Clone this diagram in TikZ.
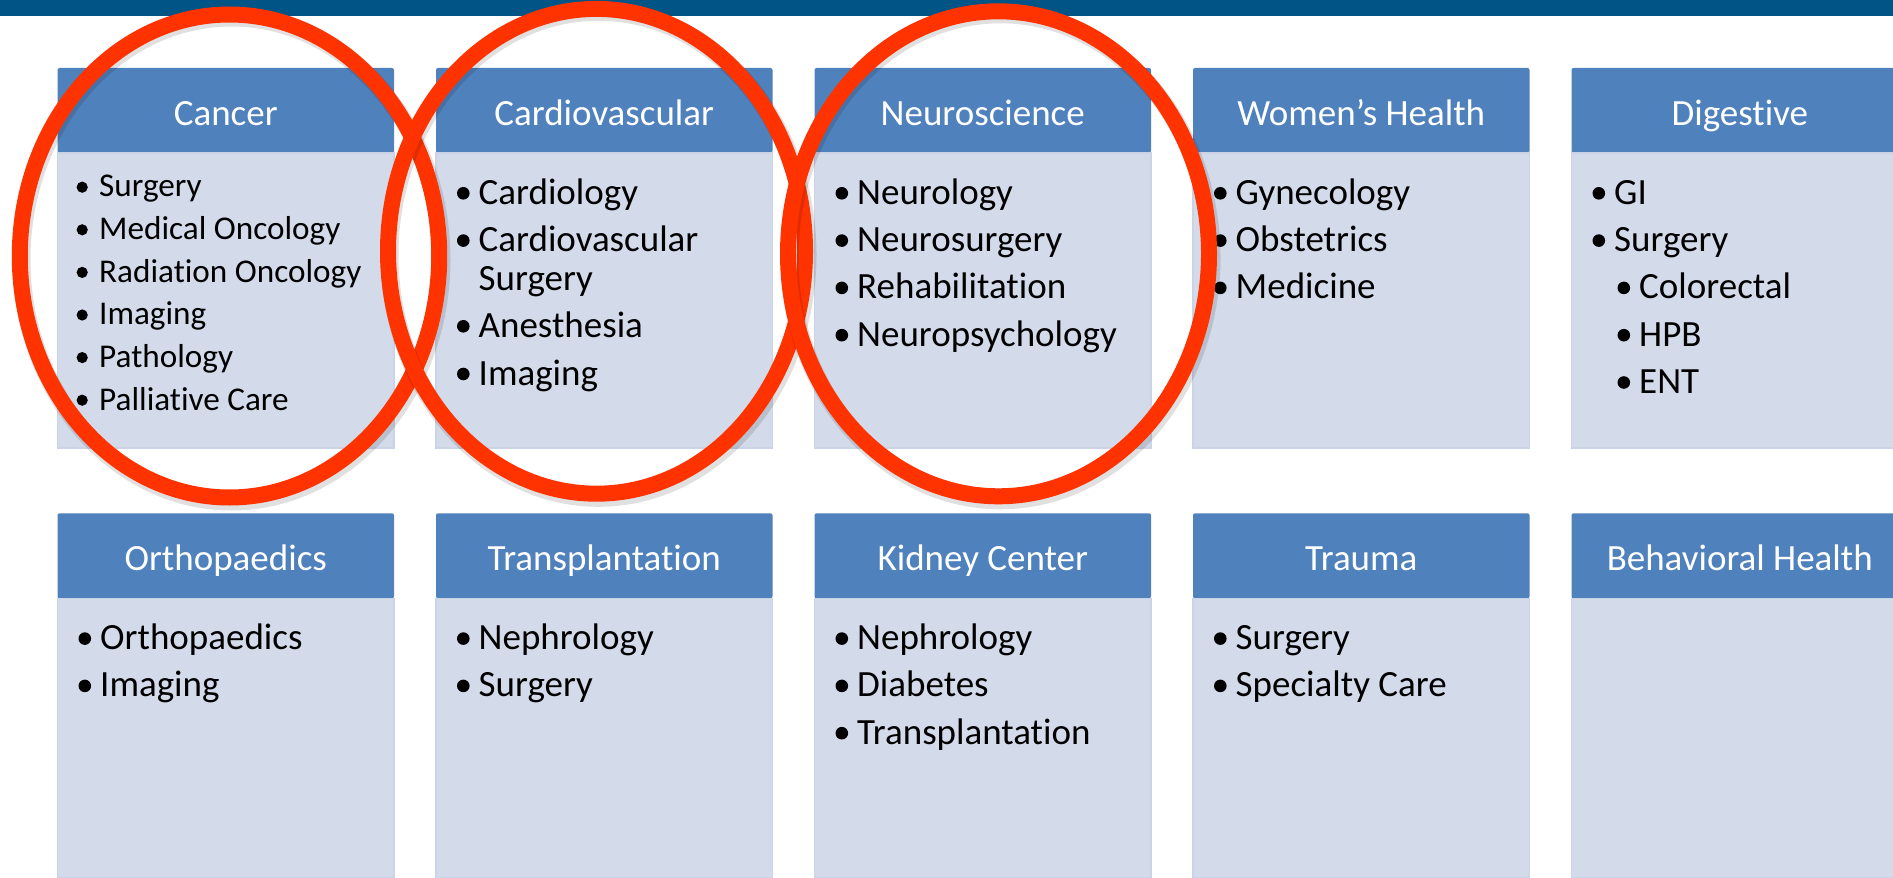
\documentclass[tikz,border=0pt]{standalone}
\usepackage{fontspec}
\setmainfont{Carlito}[Ligatures={NoCommon,NoContextual}]
\definecolor{topbar}{HTML}{005486}
\definecolor{hdr}{HTML}{4F81BD}
\definecolor{bodyc}{HTML}{D3DBEA}
\definecolor{bodyline}{HTML}{CBD4E6}
\definecolor{ring}{HTML}{FF3300}
\newcommand\mkpanel[5]{%
  \node[hdrbox, anchor=north west] (#1h) at (#2,#3) {};
  \node[bodybox, anchor=north west, minimum height=#5] (#1b) at (#2,#3+85) {};
  \node[hdrtext] (#1t) at (#2+168.25,#3+57.5) {#4};
}
\newcommand\itm[4]{%
  \fill (#2+27.3,#3-11) circle[radius=6.3];
  \node[item] (#1) at (#2+42.3,#3) {#4};
}
\newcommand\itmsub[4]{%
  \fill (#2+52.3,#3-11) circle[radius=6.3];
  \node[item] (#1) at (#2+67.3,#3) {#4};
}
\newcommand\itmcont[4]{%
  \node[item] (#1) at (#2+42.3,#3) {#4};
}
\newcommand\itmsmall[4]{%
  \fill (#2+24.7,#3-9.8) circle[radius=5.6];
  \node[itemsmall] (#1) at (#2+41.3,#3) {#4};
}
\begin{document}
\begin{tikzpicture}[x=0.5pt,y=-0.5pt,
  hdrbox/.style={fill=hdr, draw=none, rounded corners=1pt, minimum width=168.25pt, minimum height=42.5pt, inner sep=0, outer sep=0},
  bodybox/.style={fill=bodyc, draw=bodyline, line width=0.6pt, minimum width=168.25pt, inner sep=0, outer sep=0},
  hdrtext/.style={text=white, font=\fontsize{18.5pt}{22pt}\selectfont, anchor=base, inner sep=0},
  item/.style={anchor=base west, inner sep=0, font=\fontsize{18.5pt}{22pt}\selectfont},
  itemsmall/.style={anchor=base west, inner sep=0, font=\fontsize{16.6pt}{20pt}\selectfont},
  ringline/.style={draw=ring, line width=8pt},
  ringshade/.style={draw=black, line width=9pt, opacity=0.12}
]
\useasboundingbox (0,0) rectangle (1893,877);
\clip (0,0) rectangle (1893,877);
\fill[white] (0,0) rectangle (1893,877);
\fill[topbar] (0,0) rectangle (1893,16);

% row 1
\mkpanel{can}{57.5}{68}{Cancer}{147.5pt}
\mkpanel{car}{436}{68}{Cardiovascular}{147.5pt}
\mkpanel{neu}{814.5}{68}{Neuroscience}{147.5pt}
\mkpanel{wom}{1193}{68}{Women’s Health}{147.5pt}
\mkpanel{dig}{1571.5}{68}{Digestive}{147.5pt}
% row 2
\mkpanel{ort}{57.5}{513.3}{Orthopaedics}{139.5pt}
\mkpanel{tra}{436}{513.3}{Transplantation}{139.5pt}
\mkpanel{kid}{814.5}{513.3}{Kidney Center}{139.5pt}
\mkpanel{trm}{1193}{513.3}{Trauma}{139.5pt}
\mkpanel{beh}{1571.5}{513.3}{Behavioral Health}{139.5pt}

% Cancer items
\itmsmall{can1}{57.5}{197}{Surgery}
\itmsmall{can2}{57.5}{239.6}{Medical Oncology}
\itmsmall{can3}{57.5}{282.2}{Radiation Oncology}
\itmsmall{can4}{57.5}{324.8}{Imaging}
\itmsmall{can5}{57.5}{367.4}{Pathology}
\itmsmall{can6}{57.5}{410}{Palliative Care}
% Cardiovascular
\itm{car1}{436}{204.3}{Cardiology}
\itm{car2}{436}{251.6}{Cardiovascular}
\itmcont{car3}{436}{290}{Surgery}
\itm{car4}{436}{337.3}{Anesthesia}
\itm{car5}{436}{385}{Imaging}
% Neuroscience
\itm{neu1}{814.5}{204.3}{Neurology}
\itm{neu2}{814.5}{251.6}{Neurosurgery}
\itm{neu3}{814.5}{298.9}{Rehabilitation}
\itm{neu4}{814.5}{346.2}{Neuropsychology}
% Women's Health
\itm{wom1}{1193}{204.3}{Gynecology}
\itm{wom2}{1193}{251.6}{Obstetrics}
\itm{wom3}{1193}{298.9}{Medicine}
% Digestive
\itm{dig1}{1571.5}{204.3}{GI}
\itm{dig2}{1571.5}{251.6}{Surgery}
\itmsub{dig3}{1571.5}{298.9}{Colorectal}
\itmsub{dig4}{1571.5}{346.2}{HPB}
\itmsub{dig5}{1571.5}{393.5}{ENT}
% Row 2 items
\itm{ort1}{57.5}{649.6}{Orthopaedics}
\itm{ort2}{57.5}{696.9}{Imaging}
\itm{tra1}{436}{649.6}{Nephrology}
\itm{tra2}{436}{696.9}{Surgery}
\itm{kid1}{814.5}{649.6}{Nephrology}
\itm{kid2}{814.5}{696.9}{Diabetes}
\itm{kid3}{814.5}{744.2}{Transplantation}
\itm{trm1}{1193}{649.6}{Surgery}
\itm{trm2}{1193}{696.9}{Specialty Care}

% red rings
\draw[ringshade] (231.5,259.5) ellipse [x radius=210, y radius=242];
\draw[ringline] (229.5,256) ellipse [x radius=209.7, y radius=241.5];
\draw[ringshade] (598.5,254.8) ellipse [x radius=209, y radius=243];
\draw[ringline] (596.5,251.3) ellipse [x radius=208.5, y radius=242.4];
\draw[ringshade] (1000.5,257.3) ellipse [x radius=211, y radius=243];
\draw[ringline] (998.5,253.8) ellipse [x radius=210.5, y radius=242.5];
\end{tikzpicture}
\end{document}
